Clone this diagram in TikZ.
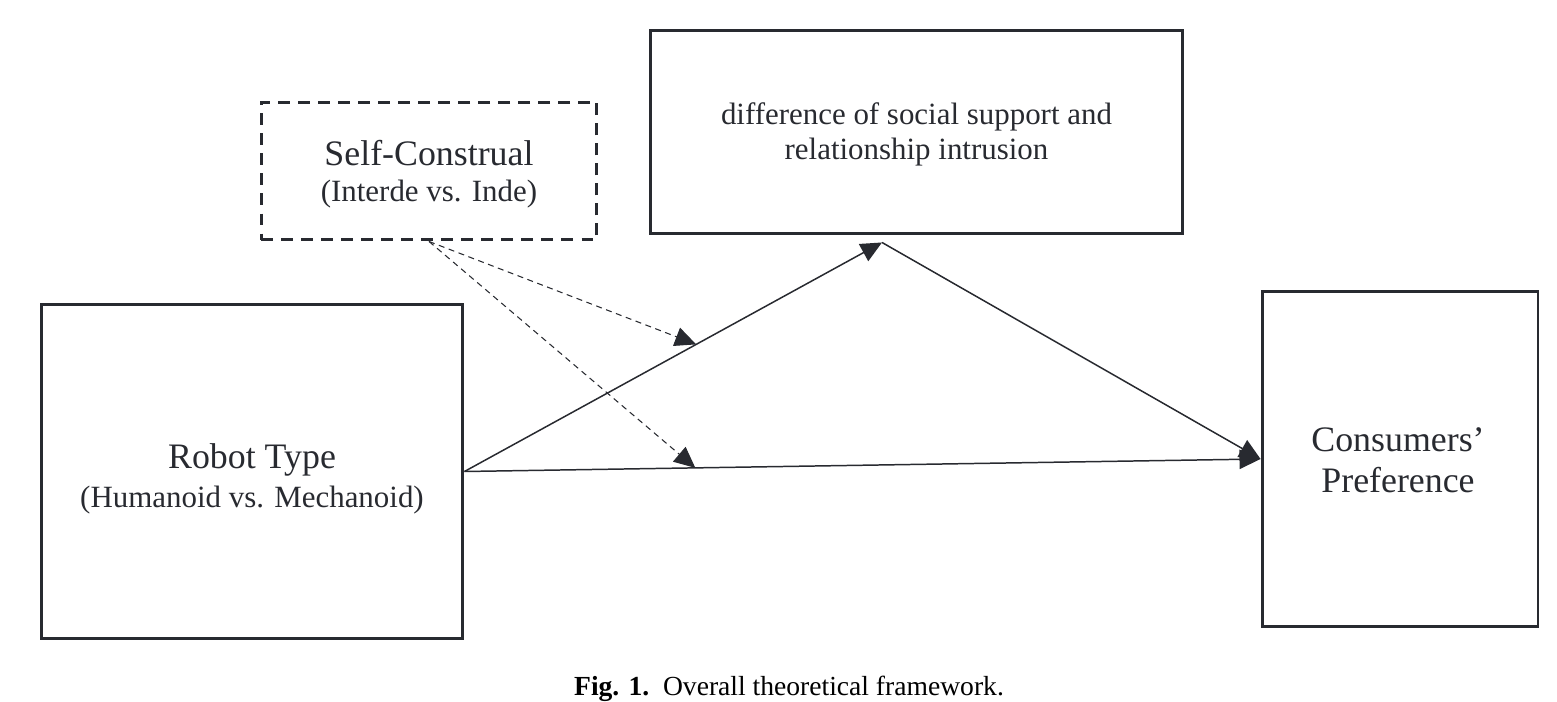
\documentclass[tikz,border=0pt]{standalone}
\usepackage{fontspec}
\setmainfont{Liberation Serif}
\usetikzlibrary{arrows.meta,calc}
\definecolor{ink}{RGB}{40,42,48}
\tikzset{
  boxstyle/.style={draw=ink, line width=1.7pt, inner sep=0pt},
  dashbox/.style={boxstyle, dash pattern=on 6.8pt off 4.6pt},
  conn/.style={draw=ink, line width=0.85pt, -{Triangle[length=12pt,width=11pt]}},
  modconn/.style={draw=ink, line width=0.6pt, dash pattern=on 3.4pt off 2.6pt, -{Triangle[length=12pt,width=11pt]}},
  bigtext/.style={anchor=base, inner sep=0pt, text=ink, font=\fontsize{20.4}{22}\selectfont},
  smalltext/.style={anchor=base, inner sep=0pt, text=ink, font=\fontsize{17.6}{20}\selectfont},
}
\begin{document}
\begin{tikzpicture}[x=0.02cm,y=-0.02cm]
\useasboundingbox (0,0) rectangle (1557,702);
% boxes
\node[boxstyle, minimum width=8.44cm, minimum height=6.7cm] (rob) at (252,471.5) {};
\node[dashbox, minimum width=6.72cm, minimum height=2.76cm] (self) at (429,171) {};
\node[boxstyle, minimum width=10.66cm, minimum height=4.08cm] (med) at (916.5,132) {};
\node[boxstyle, minimum width=5.52cm, minimum height=6.72cm] (con) at (1400,459) {};
% texts
\node[bigtext] (robA) at (252,468) {Robot Type};
\node[smalltext] (robB) at (252,507) {(Humanoid vs. Mechanoid)};
\node[bigtext] (selfA) at (429,166) {Self-Construal};
\node[smalltext] (selfB) at (429,202) {(Interde vs. Inde)};
\node[smalltext] (medA) at (916.5,125) {difference of social support and};
\node[smalltext] (medB) at (916.5,160) {relationship intrusion};
\node[bigtext] (conA) at (1398,451) {Consumers’};
\node[bigtext] (conB) at (1398,492.5) {Preference};
% connectors
\coordinate (mp) at ($(med.south)+(-34.5,7)$);
\draw[conn] (rob.east) -- (mp);
\draw[conn] (mp) -- (con.west);
\draw[conn] (rob.east) -- (con.west);
\coordinate (t1) at ($(rob.east)!0.555!(mp)$);
\coordinate (t2) at ($(rob.east)!0.29!(con.west)$);
\draw[modconn] (self.south) -- (t1);
\draw[modconn] (self.south) -- (t2);
% caption
\node[anchor=base, text=black, inner sep=0pt, font=\fontsize{15.7}{18}\selectfont] (cap) at (789,695)
  {\textbf{Fig. 1.}\enspace Overall theoretical framework.};
\end{tikzpicture}
\end{document}
